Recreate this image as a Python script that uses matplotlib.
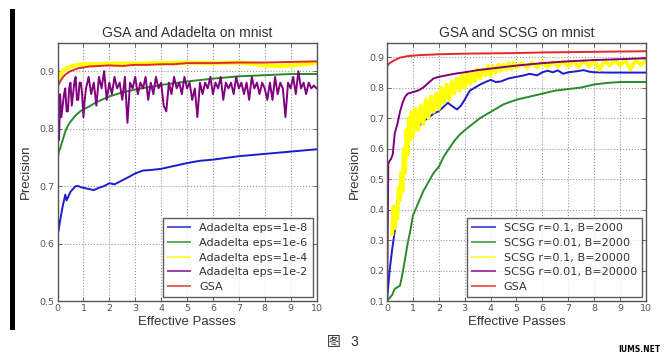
import matplotlib
matplotlib.use("Agg")
import matplotlib.pyplot as plt
from matplotlib.patches import Rectangle

# ---------------- data: left panel (GSA and Adadelta) ----------------
left_title = "GSA and Adadelta on mnist"
left_labels = ["Adadelta eps=1e-8", "Adadelta eps=1e-6", "Adadelta eps=1e-4",
               "Adadelta eps=1e-2", "GSA"]

l_blue_x = [0, 0.05, 0.1, 0.2, 0.3, 0.35, 0.4, 0.5, 0.6, 0.7, 0.8, 0.9, 1.0, 1.2, 1.4,
            1.6, 1.8, 2.0, 2.2, 2.5, 2.8, 3.0, 3.3, 3.6, 4.0, 4.5, 5.0, 5.5, 6.0,
            6.5, 7.0, 7.5, 8.0, 8.5, 9.0, 9.5, 10.0]
l_blue_y = [0.615, 0.625, 0.64, 0.665, 0.685, 0.675, 0.68, 0.69, 0.695, 0.70, 0.70, 0.698,
            0.697, 0.695, 0.693, 0.697, 0.70, 0.705, 0.703, 0.71, 0.717, 0.722, 0.727,
            0.728, 0.73, 0.735, 0.74, 0.744, 0.746, 0.749, 0.752, 0.754, 0.756, 0.758,
            0.760, 0.762, 0.764]

l_green_x = [0, 0.05, 0.1, 0.2, 0.3, 0.4, 0.5, 0.7, 0.9, 1.2, 1.5, 2.0, 2.5, 3.0, 3.5,
             4.0, 5.0, 6.0, 7.0, 8.0, 9.0, 10.0]
l_green_y = [0.745, 0.76, 0.765, 0.78, 0.795, 0.805, 0.812, 0.823, 0.831, 0.838, 0.846,
             0.856, 0.863, 0.868, 0.872, 0.876, 0.882, 0.887, 0.891, 0.893, 0.895, 0.895]

l_yellow_x = [0, 0.1, 0.2, 0.3, 0.5, 0.7, 1.0, 1.5, 2.0, 3.0, 4.0, 5.0, 6.0, 7.0, 7.5,
              8.0, 8.5, 9.0, 9.5, 10.0]
l_yellow_y = [0.882, 0.893, 0.90, 0.904, 0.908, 0.91, 0.912, 0.912, 0.913, 0.913, 0.914,
              0.915, 0.914, 0.915, 0.913, 0.910, 0.909, 0.910, 0.912, 0.915]

l_purple_x = [0, 0.03, 0.06, 0.1, 0.15, 0.2, 0.25, 0.3, 0.35, 0.4, 0.45, 0.5, 0.55, 0.6,
              0.65, 0.7, 0.75, 0.8, 0.85, 0.9, 0.95, 1.0, 1.05, 1.1, 1.2,
              1.3, 1.4, 1.5, 1.6, 1.7, 1.8, 1.9, 2.0, 2.1, 2.2, 2.3, 2.4, 2.5, 2.6, 2.7,
              2.8, 2.9, 3.0, 3.1, 3.2, 3.3, 3.4, 3.5, 3.6, 3.7, 3.8, 3.9, 4.0, 4.1, 4.2,
              4.3, 4.4, 4.5, 4.6, 4.7, 4.8, 4.9, 5.0, 5.1, 5.2, 5.3, 5.4, 5.5, 5.6, 5.7,
              5.8, 5.9, 6.0, 6.1, 6.2, 6.3, 6.4, 6.5, 6.6, 6.7, 6.8, 6.9, 7.0, 7.1, 7.2,
              7.3, 7.4, 7.5, 7.6, 7.7, 7.8, 7.9, 8.0, 8.1, 8.2, 8.3, 8.4, 8.5, 8.6, 8.7,
              8.8, 8.9, 9.0, 9.1, 9.2, 9.3, 9.4, 9.5, 9.6, 9.7, 9.8, 9.9, 10.0]
l_purple_y = [0.76, 0.80, 0.78, 0.86, 0.82, 0.84, 0.86, 0.87, 0.83, 0.83, 0.87, 0.88,
              0.84, 0.86, 0.88, 0.89, 0.85, 0.85, 0.88, 0.88, 0.86, 0.82, 0.85,
              0.87, 0.89, 0.86, 0.88, 0.84, 0.89, 0.87, 0.90, 0.85, 0.88, 0.86, 0.89,
              0.87, 0.88, 0.85, 0.89, 0.81, 0.88, 0.87, 0.89, 0.86, 0.88, 0.87, 0.89,
              0.85, 0.88, 0.86, 0.89, 0.87, 0.88, 0.84, 0.83, 0.88, 0.86, 0.89, 0.87,
              0.88, 0.86, 0.89, 0.87, 0.88, 0.85, 0.87, 0.82, 0.88, 0.86, 0.88, 0.87,
              0.89, 0.86, 0.88, 0.87, 0.89, 0.85, 0.88, 0.87, 0.88, 0.86, 0.89, 0.87,
              0.88, 0.86, 0.88, 0.85, 0.89, 0.87, 0.88, 0.86, 0.88, 0.87, 0.85, 0.88,
              0.85, 0.89, 0.86, 0.88, 0.87, 0.82, 0.88, 0.87, 0.89, 0.86, 0.90, 0.87,
              0.88, 0.86, 0.88, 0.87, 0.875, 0.87]

l_red_x = [0, 0.1, 0.2, 0.3, 0.5, 0.8, 1.2, 1.6, 2.0, 2.5, 3.0, 3.5, 4.0, 4.5, 5.0, 6.0,
           7.0, 8.0, 9.0, 10.0]
l_red_y = [0.872, 0.882, 0.889, 0.894, 0.90, 0.905, 0.908, 0.909, 0.910, 0.909, 0.911,
           0.911, 0.912, 0.912, 0.914, 0.914, 0.915, 0.915, 0.916, 0.917]

# ---------------- data: right panel (GSA and SCSG) ----------------
right_title = "GSA and SCSG on mnist"
right_labels = ["SCSG r=0.1, B=2000", "SCSG r=0.01, B=2000", "SCSG r=0.1, B=20000",
                "SCSG r=0.01, B=20000", "GSA"]

r_blue_x = [0, 0.1, 0.2, 0.3, 0.4, 0.5, 0.6, 0.7, 0.8, 0.9, 1.0, 1.2, 1.4, 1.6, 1.8,
            1.95, 2.1, 2.35, 2.5, 2.7, 2.85, 3.0, 3.2, 3.4, 3.6, 3.8, 4.0, 4.2, 4.4,
            4.7, 5.0, 5.3, 5.5, 5.8, 6.0, 6.2, 6.4, 6.6, 6.8, 7.0, 7.3, 7.6, 7.8, 8.0,
            8.5, 9.0, 9.5, 10.0]
r_blue_y = [0.10, 0.20, 0.27, 0.33, 0.43, 0.46, 0.52, 0.57, 0.63, 0.65, 0.67, 0.67, 0.69,
            0.70, 0.715, 0.72, 0.73, 0.75, 0.74, 0.728, 0.74, 0.76, 0.79, 0.80, 0.81,
            0.818, 0.825, 0.818, 0.82, 0.83, 0.835, 0.84, 0.845, 0.84, 0.85, 0.855,
            0.85, 0.856, 0.845, 0.85, 0.853, 0.857, 0.852, 0.85, 0.849, 0.849, 0.849,
            0.849]

r_green_x = [0, 0.1, 0.2, 0.3, 0.4, 0.5, 0.6, 0.7, 0.8, 0.9, 1.0, 1.2, 1.4, 1.6, 1.8,
             2.0, 2.2, 2.4, 2.6, 2.8, 3.0, 3.3, 3.6, 4.0, 4.5, 5.0, 5.5, 6.0, 6.5, 7.0,
             7.5, 8.0, 8.5, 9.0, 10.0]
r_green_y = [0.10, 0.11, 0.12, 0.14, 0.145, 0.15, 0.19, 0.24, 0.29, 0.33, 0.38, 0.42,
             0.46, 0.49, 0.52, 0.54, 0.575, 0.60, 0.625, 0.645, 0.66, 0.68, 0.70, 0.72,
             0.745, 0.76, 0.77, 0.78, 0.79, 0.795, 0.80, 0.81, 0.815, 0.818, 0.818]

r_yellow_x = [0.2, 0.25, 0.3, 0.35, 0.4, 0.45, 0.5, 0.55, 0.6, 0.65, 0.7, 0.75, 0.8, 0.85,
              0.9, 0.95, 1.0, 1.1, 1.2, 1.3, 1.4, 1.5, 1.6,
              1.7, 1.8, 1.9, 2.0, 2.1, 2.2, 2.3, 2.4, 2.5, 2.6, 2.7, 2.8, 2.9, 3.0, 3.1,
              3.2, 3.3, 3.4, 3.5, 3.6, 3.7, 3.8, 3.9, 4.0, 4.1, 4.2, 4.3, 4.4, 4.5, 4.6,
              4.7, 4.8, 4.9, 5.0, 5.2, 5.4, 5.6, 5.8, 6.0, 6.2, 6.4, 6.6, 6.8, 7.0, 7.2,
              7.4, 7.6, 7.8, 8.0, 8.2, 8.4, 8.6, 8.8, 9.0, 9.2, 9.4, 9.6, 9.8, 10.0]
r_yellow_y = [0.32, 0.41, 0.34, 0.40, 0.37, 0.47, 0.43, 0.52, 0.46, 0.60, 0.52, 0.66,
              0.58, 0.70, 0.63, 0.72, 0.64, 0.73, 0.66, 0.74,
              0.68, 0.76, 0.70, 0.77, 0.72, 0.78, 0.73, 0.80, 0.75, 0.81, 0.76, 0.82,
              0.78, 0.83, 0.79, 0.84, 0.80, 0.85, 0.81, 0.85, 0.82, 0.86, 0.83, 0.86,
              0.84, 0.87, 0.84, 0.87, 0.85, 0.875, 0.855, 0.875, 0.86, 0.88, 0.86, 0.88,
              0.865, 0.88, 0.865, 0.882, 0.866, 0.884, 0.868, 0.884, 0.87, 0.886, 0.87,
              0.886, 0.868, 0.888, 0.87, 0.888, 0.858, 0.888, 0.872, 0.89, 0.872, 0.89,
              0.86, 0.89, 0.874, 0.89]

r_purple_x = [0, 0.03, 0.05, 0.1, 0.15, 0.22, 0.3, 0.4, 0.5, 0.6, 0.7, 0.8, 1.0, 1.2,
              1.4, 1.6, 1.8, 2.0, 2.3, 2.6, 3.0, 3.5, 4.0, 4.5, 5.0, 6.0, 7.0, 8.0, 9.0,
              10.0]
r_purple_y = [0.10, 0.35, 0.55, 0.56, 0.565, 0.58, 0.65, 0.68, 0.72, 0.75, 0.77, 0.78,
              0.785, 0.79, 0.80, 0.815, 0.83, 0.835, 0.84, 0.845, 0.85, 0.857, 0.862,
              0.867, 0.872, 0.88, 0.886, 0.89, 0.893, 0.896]

r_red_x = [0, 0.1, 0.3, 0.5, 0.8, 1.2, 2.0, 3.0, 4.0, 5.0, 6.0, 7.0, 8.0, 9.0, 10.0]
r_red_y = [0.87, 0.88, 0.89, 0.898, 0.903, 0.906, 0.909, 0.911, 0.912, 0.913, 0.915,
           0.916, 0.917, 0.918, 0.919]

x_ticks = list(range(0, 11))
left_yticks = [0.5, 0.6, 0.7, 0.8, 0.9]
right_yticks = [0.1, 0.2, 0.3, 0.4, 0.5, 0.6, 0.7, 0.8, 0.9]

# ---------------- style ----------------
C_BLUE = "#1c1ccc"
C_GREEN = "#2a8a2a"
C_YELLOW = "#ffff00"
C_PURPLE = "#800080"
C_RED = "#e02a2a"
TICK_COLOR = "#555555"
TEXT_COLOR = "#333333"
SPINE_COLOR = "#555555"

fig = plt.figure(figsize=(6.72, 3.61), dpi=100)
fig.patch.set_facecolor("white")

ax_l = fig.add_axes([0.0856, 0.1662, 0.3854, 0.7147])
ax_r = fig.add_axes([0.5759, 0.1662, 0.3854, 0.7147])


def style_axes(ax, title, yticks, ylim):
    ax.set_xlim(0, 10)
    ax.set_ylim(*ylim)
    ax.set_xticks(x_ticks)
    ax.set_yticks(yticks)
    ax.set_yticklabels([f"{t:.1f}" for t in yticks])
    ax.tick_params(direction="in", top=True, right=True, length=3, width=0.6,
                   labelsize=6.8, labelcolor=TICK_COLOR, color=SPINE_COLOR, pad=2)
    for lab in ax.get_xticklabels() + ax.get_yticklabels():
        lab.set_fontfamily("DejaVu Sans")
    ax.grid(True, linestyle=":", color="#999999", linewidth=0.8)
    for sp in ax.spines.values():
        sp.set_color(SPINE_COLOR)
        sp.set_linewidth(1.0)
    ax.set_title(title, fontsize=10, color=TEXT_COLOR, family="Liberation Sans", pad=4)
    ax.set_xlabel("Effective Passes", fontsize=9.5, color=TEXT_COLOR,
                  family="Liberation Sans", labelpad=2)
    ax.set_ylabel("Precision", fontsize=9.5, color=TEXT_COLOR,
                  family="Liberation Sans", labelpad=6)


style_axes(ax_l, left_title, left_yticks, (0.5, 0.949))
style_axes(ax_r, right_title, right_yticks, (0.1, 0.946))

# left lines
ax_l.plot(l_blue_x, l_blue_y, color=C_BLUE, lw=1.4, label=left_labels[0])
ax_l.plot(l_green_x, l_green_y, color=C_GREEN, lw=1.4, label=left_labels[1])
ax_l.plot(l_yellow_x, l_yellow_y, color=C_YELLOW, lw=3.0, label=left_labels[2])
ax_l.plot(l_purple_x, l_purple_y, color=C_PURPLE, lw=1.4, label=left_labels[3])
ax_l.plot(l_red_x, l_red_y, color=C_RED, lw=1.4, label=left_labels[4])

# right lines
ax_r.plot(r_blue_x, r_blue_y, color=C_BLUE, lw=1.4, label=right_labels[0])
ax_r.plot(r_green_x, r_green_y, color=C_GREEN, lw=1.4, label=right_labels[1])
ax_r.plot(r_yellow_x, r_yellow_y, color=C_YELLOW, lw=2.8, label=right_labels[2])
ax_r.plot(r_purple_x, r_purple_y, color=C_PURPLE, lw=1.4, label=right_labels[3])
ax_r.plot(r_red_x, r_red_y, color=C_RED, lw=1.4, label=right_labels[4])

for ax in (ax_l, ax_r):
    leg = ax.legend(loc="lower right", frameon=True, fancybox=False,
                    borderaxespad=0.35, handlelength=2.0, labelspacing=0.42,
                    borderpad=0.45, handletextpad=0.8,
                    prop={"family": "DejaVu Sans", "size": 8.1})
    leg.get_frame().set_edgecolor("#333333")
    leg.get_frame().set_linewidth(1.0)
    for txt in leg.get_texts():
        txt.set_color(TEXT_COLOR)
    for h in leg.get_lines():
        h.set_linewidth(1.4)
        h.set_alpha(0.75)

# decorative page elements
fig.patches.append(Rectangle((10 / 672, 1 - 330 / 361), 5 / 672, 321 / 361,
                             transform=fig.transFigure, facecolor="black",
                             edgecolor="none"))
fig.text(327 / 672, 1 - 342 / 361, "图", fontsize=10, color="#333333",
         family=["Noto Sans CJK SC", "DejaVu Sans"], ha="left", va="center")
fig.text(350 / 672, 1 - 342 / 361, "3", fontsize=10, color="#333333",
         family="Liberation Sans", ha="left", va="center")
fig.text(639 / 672, 1 - 349 / 361, "IUMS.NET", fontsize=5.5, color="black",
         family="DejaVu Sans", weight="bold", ha="center", va="center")

fig.savefig("out.png", dpi=100, facecolor="white")
